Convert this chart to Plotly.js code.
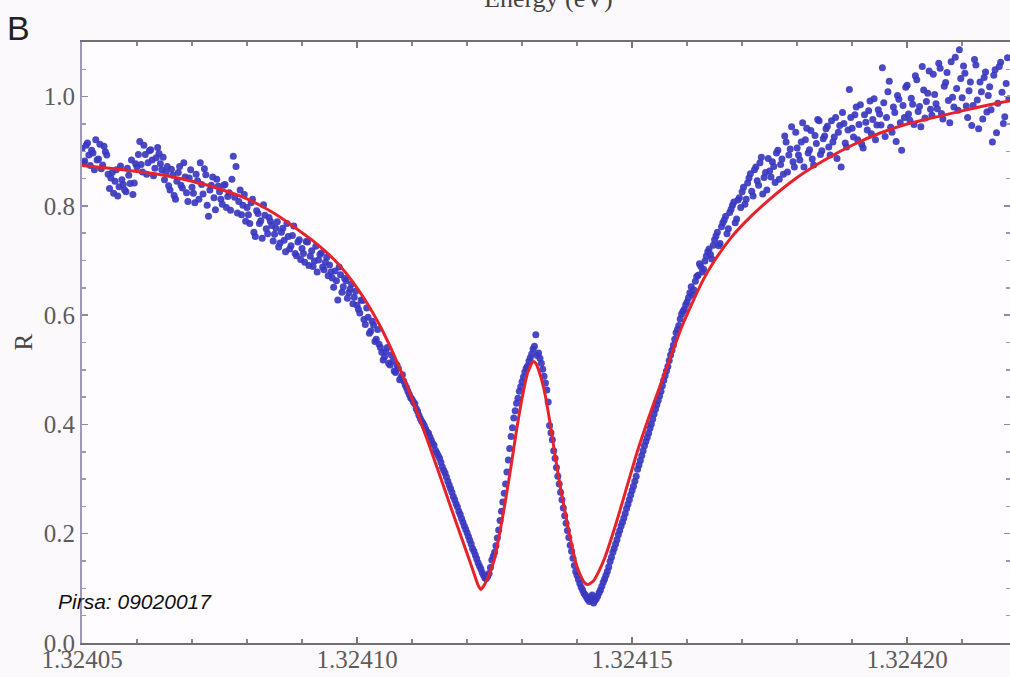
<!DOCTYPE html>
<html>
<head>
<meta charset="utf-8">
<script src="https://cdn.plot.ly/plotly-3.0.1.min.js"></script>
<style>
  html, body { margin: 0; padding: 0; background: #fcf9fc; }
  #chart { width: 1010px; height: 677px; }
</style>
</head>
<body>
<div id="chart"></div>
<script>
// Measured reflectance R versus photon energy (eV), first pass of samples
const energy = [
  1.3240500, 1.3240505, 1.3240510, 1.3240515, 1.3240520, 1.3240525, 1.3240530, 1.3240535, 1.3240540, 1.3240545,
  1.3240550, 1.3240555, 1.3240560, 1.3240565, 1.3240570, 1.3240575, 1.3240580, 1.3240585, 1.3240590, 1.3240595,
  1.3240600, 1.3240605, 1.3240610, 1.3240615, 1.3240620, 1.3240625, 1.3240630, 1.3240635, 1.3240640, 1.3240645,
  1.3240650, 1.3240655, 1.3240660, 1.3240665, 1.3240670, 1.3240675, 1.3240680, 1.3240685, 1.3240690, 1.3240695,
  1.3240700, 1.3240705, 1.3240710, 1.3240715, 1.3240720, 1.3240725, 1.3240730, 1.3240735, 1.3240740, 1.3240745,
  1.3240750, 1.3240755, 1.3240760, 1.3240765, 1.3240770, 1.3240775, 1.3240780, 1.3240785, 1.3240790, 1.3240795,
  1.3240800, 1.3240805, 1.3240810, 1.3240815, 1.3240820, 1.3240825, 1.3240830, 1.3240835, 1.3240840, 1.3240845,
  1.3240850, 1.3240855, 1.3240860, 1.3240865, 1.3240870, 1.3240875, 1.3240880, 1.3240885, 1.3240890, 1.3240895,
  1.3240900, 1.3240905, 1.3240910, 1.3240915, 1.3240920, 1.3240925, 1.3240930, 1.3240935, 1.3240940, 1.3240945,
  1.3240950, 1.3240955, 1.3240960, 1.3240965, 1.3240970, 1.3240975, 1.3240980, 1.3240985, 1.3240990, 1.3240995,
  1.3241000, 1.3241005, 1.3241010, 1.3241015, 1.3241020, 1.3241025, 1.3241030, 1.3241035, 1.3241040, 1.3241045,
  1.3241050, 1.3241055, 1.3241060, 1.3241065, 1.3241070, 1.3241075, 1.3241080, 1.3241085, 1.3241090, 1.3241095,
  1.3241100, 1.3241105, 1.3241110, 1.3241115, 1.3241120, 1.3241125, 1.3241130, 1.3241135, 1.3241140, 1.3241145,
  1.3241150, 1.3241155, 1.3241160, 1.3241165, 1.3241170, 1.3241175, 1.3241180, 1.3241185, 1.3241190, 1.3241195,
  1.3241200, 1.3241205, 1.3241210, 1.3241215, 1.3241220, 1.3241225, 1.3241230, 1.3241235, 1.3241240, 1.3241245,
  1.3241250, 1.3241255, 1.3241260, 1.3241265, 1.3241270, 1.3241275, 1.3241280, 1.3241285, 1.3241290, 1.3241295,
  1.3241300, 1.3241305, 1.3241310, 1.3241315, 1.3241320, 1.3241325, 1.3241330, 1.3241335, 1.3241340, 1.3241345,
  1.3241350, 1.3241355, 1.3241360, 1.3241365, 1.3241370, 1.3241375, 1.3241380, 1.3241385, 1.3241390, 1.3241395,
  1.3241400, 1.3241405, 1.3241410, 1.3241415, 1.3241420, 1.3241425, 1.3241430, 1.3241435, 1.3241440, 1.3241445,
  1.3241450, 1.3241455, 1.3241460, 1.3241465, 1.3241470, 1.3241475, 1.3241480, 1.3241485, 1.3241490, 1.3241495,
  1.3241500, 1.3241505, 1.3241510, 1.3241515, 1.3241520, 1.3241525, 1.3241530, 1.3241535, 1.3241540, 1.3241545,
  1.3241550, 1.3241555, 1.3241560, 1.3241565, 1.3241570, 1.3241575, 1.3241580, 1.3241585, 1.3241590, 1.3241595,
  1.3241600, 1.3241605, 1.3241610, 1.3241615, 1.3241620, 1.3241625, 1.3241630, 1.3241635, 1.3241640, 1.3241645,
  1.3241650, 1.3241655, 1.3241660, 1.3241665, 1.3241670, 1.3241675, 1.3241680, 1.3241685, 1.3241690, 1.3241695,
  1.3241700, 1.3241705, 1.3241710, 1.3241715, 1.3241720, 1.3241725, 1.3241730, 1.3241735, 1.3241740, 1.3241745,
  1.3241750, 1.3241755, 1.3241760, 1.3241765, 1.3241770, 1.3241775, 1.3241780, 1.3241785, 1.3241790, 1.3241795,
  1.3241800, 1.3241805, 1.3241810, 1.3241815, 1.3241820, 1.3241825, 1.3241830, 1.3241835, 1.3241840, 1.3241845,
  1.3241850, 1.3241855, 1.3241860, 1.3241865, 1.3241870, 1.3241875, 1.3241880, 1.3241885, 1.3241890, 1.3241895,
  1.3241900, 1.3241905, 1.3241910, 1.3241915, 1.3241920, 1.3241925, 1.3241930, 1.3241935, 1.3241940, 1.3241945,
  1.3241950, 1.3241955, 1.3241960, 1.3241965, 1.3241970, 1.3241975, 1.3241980, 1.3241985, 1.3241990, 1.3241995,
  1.3242000, 1.3242005, 1.3242010, 1.3242015, 1.3242020, 1.3242025, 1.3242030, 1.3242035, 1.3242040, 1.3242045,
  1.3242050, 1.3242055, 1.3242060, 1.3242065, 1.3242070, 1.3242075, 1.3242080, 1.3242085, 1.3242090, 1.3242095,
  1.3242100, 1.3242105, 1.3242110, 1.3242115, 1.3242120, 1.3242125, 1.3242130, 1.3242135, 1.3242140, 1.3242145,
  1.3242150, 1.3242155, 1.3242160, 1.3242165, 1.3242170, 1.3242175, 1.3242180, 1.3242185
];

const reflectance = [
  0.905, 0.882, 0.915, 0.874, 0.897, 0.921, 0.886, 0.868, 0.909, 0.893,
  0.832, 0.861, 0.845, 0.818, 0.873, 0.839, 0.826, 0.856, 0.884, 0.842,
  0.871, 0.918, 0.862, 0.894, 0.879, 0.903, 0.855, 0.888, 0.896, 0.866,
  0.848, 0.872, 0.829, 0.856, 0.812, 0.861, 0.838, 0.879, 0.824, 0.851,
  0.834, 0.806, 0.846, 0.879, 0.822, 0.857, 0.781, 0.838, 0.815, 0.849,
  0.826, 0.803, 0.839, 0.817, 0.792, 0.891, 0.872, 0.808, 0.784, 0.821,
  0.797, 0.768, 0.812, 0.744, 0.786, 0.773, 0.802, 0.758, 0.779, 0.764,
  0.748, 0.771, 0.732, 0.759, 0.716, 0.744, 0.727, 0.763, 0.709, 0.738,
  0.722, 0.697, 0.734, 0.708, 0.689, 0.726, 0.701, 0.714, 0.683, 0.706,
  0.692, 0.668, 0.681, 0.628, 0.674, 0.652, 0.663, 0.641, 0.657, 0.633,
  0.618, 0.604, 0.627, 0.583, 0.596, 0.571, 0.582, 0.556, 0.547, 0.532,
  0.524, 0.541, 0.509, 0.516, 0.495, 0.503, 0.486, 0.479, 0.467, 0.455,
  0.446, 0.438, 0.424, 0.411, 0.402, 0.391, 0.384, 0.371, 0.362, 0.348,
  0.338, 0.322, 0.311, 0.296, 0.283, 0.268, 0.255, 0.241, 0.228, 0.214,
  0.202, 0.188, 0.173, 0.161, 0.147, 0.136, 0.124, 0.118, 0.127, 0.152,
  0.166, 0.192, 0.224, 0.258, 0.291, 0.335, 0.378, 0.412, 0.439, 0.461,
  0.478, 0.496, 0.507, 0.522, 0.538, 0.564, 0.531, 0.512, 0.488, 0.463,
  0.398, 0.372, 0.338, 0.305, 0.276, 0.247, 0.219, 0.193, 0.168, 0.142,
  0.124, 0.109, 0.097, 0.088, 0.079, 0.084, 0.073, 0.081, 0.092, 0.104,
  0.117, 0.131, 0.149, 0.166, 0.181, 0.198, 0.214, 0.229, 0.246, 0.262,
  0.279, 0.296, 0.318, 0.334, 0.352, 0.369, 0.384, 0.401, 0.419, 0.436,
  0.452, 0.471, 0.489, 0.506, 0.527, 0.545, 0.568, 0.581, 0.602, 0.611,
  0.624, 0.641, 0.637, 0.662, 0.673, 0.689, 0.684, 0.708, 0.721, 0.703,
  0.738, 0.752, 0.731, 0.769, 0.781, 0.758, 0.794, 0.807, 0.776, 0.815,
  0.826, 0.803, 0.842, 0.859, 0.818, 0.871, 0.838, 0.889, 0.852, 0.829,
  0.864, 0.881, 0.843, 0.902, 0.876, 0.858, 0.917, 0.893, 0.945, 0.871,
  0.906, 0.884, 0.952, 0.921, 0.897, 0.938, 0.875, 0.914, 0.956, 0.901,
  0.928, 0.946, 0.893, 0.917, 0.962, 0.935, 0.871, 0.951, 0.908, 1.013,
  0.942, 0.967, 0.921, 0.985, 0.906, 0.953, 0.974, 0.932, 0.996, 0.948,
  0.968, 1.053, 0.927, 1.009, 0.944, 0.981, 0.918, 0.995, 0.902, 0.962,
  1.021, 0.957, 0.986, 1.038, 0.973, 0.945, 1.012, 0.991, 1.047, 0.966,
  1.004, 0.978, 1.052, 0.959, 1.026, 0.993, 1.064, 0.981, 1.015, 1.086,
  0.998, 1.043, 0.962, 1.027, 0.984, 1.058, 0.941, 1.009, 1.035, 0.972,
  1.018, 0.917, 1.049, 0.988, 1.063, 0.951, 1.024, 0.996
];

// Second pass, sampled half a step later
const energy2 = [
  1.32405025, 1.32405075, 1.32405125, 1.32405175, 1.32405225, 1.32405275, 1.32405325, 1.32405375, 1.32405425, 1.32405475,
  1.32405525, 1.32405575, 1.32405625, 1.32405675, 1.32405725, 1.32405775, 1.32405825, 1.32405875, 1.32405925, 1.32405975,
  1.32406025, 1.32406075, 1.32406125, 1.32406175, 1.32406225, 1.32406275, 1.32406325, 1.32406375, 1.32406425, 1.32406475,
  1.32406525, 1.32406575, 1.32406625, 1.32406675, 1.32406725, 1.32406775, 1.32406825, 1.32406875, 1.32406925, 1.32406975,
  1.32407025, 1.32407075, 1.32407125, 1.32407175, 1.32407225, 1.32407275, 1.32407325, 1.32407375, 1.32407425, 1.32407475,
  1.32407525, 1.32407575, 1.32407625, 1.32407675, 1.32407725, 1.32407775, 1.32407825, 1.32407875, 1.32407925, 1.32407975,
  1.32408025, 1.32408075, 1.32408125, 1.32408175, 1.32408225, 1.32408275, 1.32408325, 1.32408375, 1.32408425, 1.32408475,
  1.32408525, 1.32408575, 1.32408625, 1.32408675, 1.32408725, 1.32408775, 1.32408825, 1.32408875, 1.32408925, 1.32408975,
  1.32409025, 1.32409075, 1.32409125, 1.32409175, 1.32409225, 1.32409275, 1.32409325, 1.32409375, 1.32409425, 1.32409475,
  1.32409525, 1.32409575, 1.32409625, 1.32409675, 1.32409725, 1.32409775, 1.32409825, 1.32409875, 1.32409925, 1.32409975,
  1.32410025, 1.32410075, 1.32410125, 1.32410175, 1.32410225, 1.32410275, 1.32410325, 1.32410375, 1.32410425, 1.32410475,
  1.32410525, 1.32410575, 1.32410625, 1.32410675, 1.32410725, 1.32410775, 1.32410825, 1.32410875, 1.32410925, 1.32410975,
  1.32411025, 1.32411075, 1.32411125, 1.32411175, 1.32411225, 1.32411275, 1.32411325, 1.32411375, 1.32411425, 1.32411475,
  1.32411525, 1.32411575, 1.32411625, 1.32411675, 1.32411725, 1.32411775, 1.32411825, 1.32411875, 1.32411925, 1.32411975,
  1.32412025, 1.32412075, 1.32412125, 1.32412175, 1.32412225, 1.32412275, 1.32412325, 1.32412375, 1.32412425, 1.32412475,
  1.32412525, 1.32412575, 1.32412625, 1.32412675, 1.32412725, 1.32412775, 1.32412825, 1.32412875, 1.32412925, 1.32412975,
  1.32413025, 1.32413075, 1.32413125, 1.32413175, 1.32413225, 1.32413275, 1.32413325, 1.32413375, 1.32413425, 1.32413475,
  1.32413525, 1.32413575, 1.32413625, 1.32413675, 1.32413725, 1.32413775, 1.32413825, 1.32413875, 1.32413925, 1.32413975,
  1.32414025, 1.32414075, 1.32414125, 1.32414175, 1.32414225, 1.32414275, 1.32414325, 1.32414375, 1.32414425, 1.32414475,
  1.32414525, 1.32414575, 1.32414625, 1.32414675, 1.32414725, 1.32414775, 1.32414825, 1.32414875, 1.32414925, 1.32414975,
  1.32415025, 1.32415075, 1.32415125, 1.32415175, 1.32415225, 1.32415275, 1.32415325, 1.32415375, 1.32415425, 1.32415475,
  1.32415525, 1.32415575, 1.32415625, 1.32415675, 1.32415725, 1.32415775, 1.32415825, 1.32415875, 1.32415925, 1.32415975,
  1.32416025, 1.32416075, 1.32416125, 1.32416175, 1.32416225, 1.32416275, 1.32416325, 1.32416375, 1.32416425, 1.32416475,
  1.32416525, 1.32416575, 1.32416625, 1.32416675, 1.32416725, 1.32416775, 1.32416825, 1.32416875, 1.32416925, 1.32416975,
  1.32417025, 1.32417075, 1.32417125, 1.32417175, 1.32417225, 1.32417275, 1.32417325, 1.32417375, 1.32417425, 1.32417475,
  1.32417525, 1.32417575, 1.32417625, 1.32417675, 1.32417725, 1.32417775, 1.32417825, 1.32417875, 1.32417925, 1.32417975,
  1.32418025, 1.32418075, 1.32418125, 1.32418175, 1.32418225, 1.32418275, 1.32418325, 1.32418375, 1.32418425, 1.32418475,
  1.32418525, 1.32418575, 1.32418625, 1.32418675, 1.32418725, 1.32418775, 1.32418825, 1.32418875, 1.32418925, 1.32418975,
  1.32419025, 1.32419075, 1.32419125, 1.32419175, 1.32419225, 1.32419275, 1.32419325, 1.32419375, 1.32419425, 1.32419475,
  1.32419525, 1.32419575, 1.32419625, 1.32419675, 1.32419725, 1.32419775, 1.32419825, 1.32419875, 1.32419925, 1.32419975,
  1.32420025, 1.32420075, 1.32420125, 1.32420175, 1.32420225, 1.32420275, 1.32420325, 1.32420375, 1.32420425, 1.32420475,
  1.32420525, 1.32420575, 1.32420625, 1.32420675, 1.32420725, 1.32420775, 1.32420825, 1.32420875, 1.32420925, 1.32420975,
  1.32421025, 1.32421075, 1.32421125, 1.32421175, 1.32421225, 1.32421275, 1.32421325, 1.32421375, 1.32421425, 1.32421475,
  1.32421525, 1.32421575, 1.32421625, 1.32421675, 1.32421725, 1.32421775, 1.32421825
];

const reflectance2 = [
  0.878, 0.911, 0.893, 0.902, 0.866, 0.884, 0.913, 0.875, 0.899, 0.858,
  0.851, 0.823, 0.866, 0.835, 0.848, 0.829, 0.869, 0.841, 0.821, 0.877,
  0.894, 0.876, 0.911, 0.858, 0.901, 0.884, 0.869, 0.907, 0.877, 0.889,
  0.861, 0.837, 0.867, 0.819, 0.845, 0.872, 0.833, 0.853, 0.808, 0.866,
  0.823, 0.858, 0.812, 0.839, 0.868, 0.801, 0.829, 0.853, 0.793, 0.836,
  0.812, 0.838, 0.797, 0.824, 0.849, 0.816, 0.787, 0.829, 0.801, 0.772,
  0.784, 0.806, 0.752, 0.791, 0.768, 0.741, 0.783, 0.749, 0.772, 0.736,
  0.759, 0.725, 0.752, 0.737, 0.768, 0.721, 0.746, 0.713, 0.734, 0.702,
  0.713, 0.735, 0.691, 0.718, 0.699, 0.679, 0.711, 0.688, 0.697, 0.672,
  0.679, 0.651, 0.663, 0.688, 0.642, 0.667, 0.631, 0.648, 0.621, 0.644,
  0.611, 0.628, 0.592, 0.613, 0.567, 0.589, 0.552, 0.574, 0.541, 0.518,
  0.533, 0.512, 0.527, 0.498, 0.509, 0.482, 0.491, 0.472, 0.461, 0.449,
  0.441, 0.429, 0.417, 0.406, 0.397, 0.386, 0.377, 0.365, 0.353, 0.343,
  0.331, 0.316, 0.304, 0.289, 0.276, 0.262, 0.249, 0.235, 0.221, 0.208,
  0.195, 0.181, 0.168, 0.154, 0.141, 0.129, 0.119, 0.122, 0.138, 0.159,
  0.178, 0.207, 0.241, 0.274, 0.313, 0.356, 0.394, 0.425, 0.448, 0.469,
  0.487, 0.503, 0.516, 0.529, 0.543, 0.526, 0.521, 0.501, 0.476, 0.441,
  0.385, 0.352, 0.321, 0.291, 0.262, 0.233, 0.206, 0.179, 0.155, 0.131,
  0.116, 0.102, 0.091, 0.083, 0.076, 0.088, 0.078, 0.086, 0.097, 0.111,
  0.124, 0.139, 0.157, 0.173, 0.189, 0.206, 0.221, 0.237, 0.254, 0.271,
  0.287, 0.305, 0.326, 0.343, 0.361, 0.376, 0.393, 0.410, 0.428, 0.444,
  0.461, 0.481, 0.498, 0.517, 0.536, 0.556, 0.574, 0.593, 0.607, 0.619,
  0.632, 0.652, 0.646, 0.671, 0.694, 0.679, 0.699, 0.716, 0.711, 0.728,
  0.745, 0.727, 0.762, 0.774, 0.749, 0.788, 0.801, 0.769, 0.811, 0.797,
  0.834, 0.812, 0.851, 0.827, 0.866, 0.846, 0.879, 0.822, 0.861, 0.887,
  0.853, 0.872, 0.897, 0.849, 0.886, 0.928, 0.862, 0.904, 0.881, 0.935,
  0.893, 0.917, 0.871, 0.942, 0.903, 0.886, 0.929, 0.958, 0.894, 0.923,
  0.941, 0.908, 0.956, 0.926, 0.887, 0.947, 0.971, 0.915, 0.939, 0.962,
  0.926, 0.981, 0.949, 0.913, 0.967, 0.939, 0.992, 0.958, 0.921, 0.976,
  0.948, 0.989, 0.962, 1.028, 0.935, 0.971, 1.002, 0.952, 0.984, 1.017,
  0.968, 0.997, 0.949, 1.031, 0.982, 1.055, 0.961, 1.006, 0.977, 1.041,
  0.987, 1.061, 0.969, 1.019, 1.044, 0.952, 0.999, 1.072, 0.975, 1.033,
  1.056, 0.983, 1.011, 0.947, 1.068, 0.994, 1.027, 0.959, 1.045, 1.002,
  0.976, 1.039, 0.934, 1.055, 1.008, 0.963, 1.071
];

// Fitted model curve
const fitEnergy = [
  1.324050, 1.324055, 1.324060, 1.324065, 1.324070, 1.324075, 1.324080, 1.324085,
  1.324090, 1.324092, 1.324094, 1.324096, 1.324098, 1.324100, 1.324102, 1.324104,
  1.324106, 1.324108, 1.324110, 1.324112, 1.324114, 1.324116, 1.324118, 1.324120,
  1.324121, 1.324122, 1.3241225, 1.324123, 1.324124, 1.324125, 1.324126, 1.324127,
  1.324128, 1.324129, 1.324130, 1.324131, 1.324132, 1.3241325, 1.324133, 1.324134,
  1.324135, 1.324136, 1.324137, 1.324138, 1.324139, 1.324140, 1.324141, 1.3241415,
  1.324142, 1.324143, 1.324144, 1.324145, 1.324147, 1.324149, 1.324151, 1.324153,
  1.324155, 1.324157, 1.324159, 1.324161, 1.324163, 1.324165, 1.324168, 1.324171,
  1.324175, 1.324180, 1.324185, 1.324190, 1.324195, 1.324200, 1.324205, 1.324210,
  1.324215, 1.324219
];
const fitR = [
  0.874, 0.869, 0.863, 0.856, 0.845, 0.831, 0.813, 0.786,
  0.751, 0.736, 0.719, 0.700, 0.677, 0.650, 0.619, 0.584,
  0.543, 0.497, 0.447, 0.393, 0.337, 0.279, 0.221, 0.164,
  0.135, 0.106, 0.098, 0.104, 0.125, 0.155, 0.205, 0.262,
  0.324, 0.390, 0.448, 0.494, 0.515, 0.512, 0.500, 0.464,
  0.408, 0.343, 0.283, 0.230, 0.180, 0.139, 0.116, 0.109,
  0.107, 0.114, 0.132, 0.155, 0.216, 0.284, 0.352, 0.412,
  0.468, 0.524, 0.578, 0.624, 0.666, 0.700, 0.742, 0.775,
  0.812, 0.852, 0.884, 0.911, 0.933, 0.950, 0.962, 0.974,
  0.985, 0.993
];

const xTickVals = [1.32405, 1.32410, 1.32415, 1.32420];
const xTickText = ['1.32405', '1.32410', '1.32415', '1.32420'];
const yTickVals = [0, 0.2, 0.4, 0.6, 0.8, 1.0];
const yTickText = ['0.0', '0.2', '0.4', '0.6', '0.8', '1.0'];

const serif = '"Liberation Serif", "Times New Roman", serif';
const sans = '"Liberation Sans", Arial, sans-serif';
const dotStyle = { color: '#3a38c0', size: 7, opacity: 0.92 };

const traces = [
  { x: energy, y: reflectance, type: 'scatter', mode: 'markers', marker: dotStyle, hoverinfo: 'skip' },
  { x: energy2, y: reflectance2, type: 'scatter', mode: 'markers', marker: dotStyle, hoverinfo: 'skip' },
  {
    x: fitEnergy, y: fitR, type: 'scatter', mode: 'lines',
    line: { color: '#e6222a', width: 3, shape: 'spline', smoothing: 0.6 },
    hoverinfo: 'skip'
  }
];

const layout = {
  width: 1010, height: 677,
  margin: { l: 82, r: 0, t: 42, b: 34 },
  paper_bgcolor: '#fcf9fc',
  plot_bgcolor: '#fefcfe',
  showlegend: false,
  xaxis: {
    range: [1.32405, 1.3242187],
    tickmode: 'array', tickvals: xTickVals, ticktext: xTickText,
    ticks: 'inside', ticklen: 6, tickwidth: 1.5, tickcolor: '#777',
    ticklabelstandoff: -7,
    minor: { dtick: 1e-5, tick0: 1.32405, ticks: 'inside', ticklen: 4, tickcolor: '#888', showgrid: false },
    showline: true, linecolor: '#707070', linewidth: 2, mirror: 'ticks',
    showgrid: false, zeroline: false,
    tickfont: { family: serif, size: 25, color: '#5c5c5c' }
  },
  yaxis: {
    range: [0, 1.1],
    tickmode: 'array', tickvals: yTickVals, ticktext: yTickText,
    ticks: 'inside', ticklen: 6, tickwidth: 1.5, tickcolor: '#8c8aa8',
    minor: { dtick: 0.05, tick0: 0, ticks: 'inside', ticklen: 4, tickcolor: '#9a98b5', showgrid: false },
    showline: true, linecolor: '#9c9ab8', linewidth: 2, mirror: 'ticks',
    showgrid: false, zeroline: false,
    tickfont: { family: serif, size: 25, color: '#5c5c5c' }
  },
  annotations: [
    {
      text: 'Energy (eV)', xref: 'paper', yref: 'paper', x: 0.503, y: 1,
      xanchor: 'center', yanchor: 'middle', yshift: 44, showarrow: false,
      font: { family: serif, size: 26, color: '#444' }
    },
    {
      text: 'R', xref: 'paper', yref: 'paper', x: 0, y: 0.5,
      xanchor: 'center', yanchor: 'middle', xshift: -59, showarrow: false,
      textangle: -90,
      font: { family: serif, size: 25, color: '#444' }
    },
    {
      text: 'B', xref: 'paper', yref: 'paper', x: 0, y: 1,
      xanchor: 'center', yanchor: 'middle', xshift: -64, yshift: 14, showarrow: false,
      font: { family: sans, size: 34, color: '#222' }
    },
    {
      text: '<i>Pirsa: 09020017</i>', xref: 'paper', yref: 'paper', x: 0, y: 0,
      xanchor: 'left', yanchor: 'middle', xshift: -26, yshift: 42, showarrow: false,
      font: { family: sans, size: 21, color: '#111' }
    }
  ]
};

Plotly.newPlot('chart', traces, layout, { displayModeBar: false, staticPlot: true });
</script>
</body>
</html>
